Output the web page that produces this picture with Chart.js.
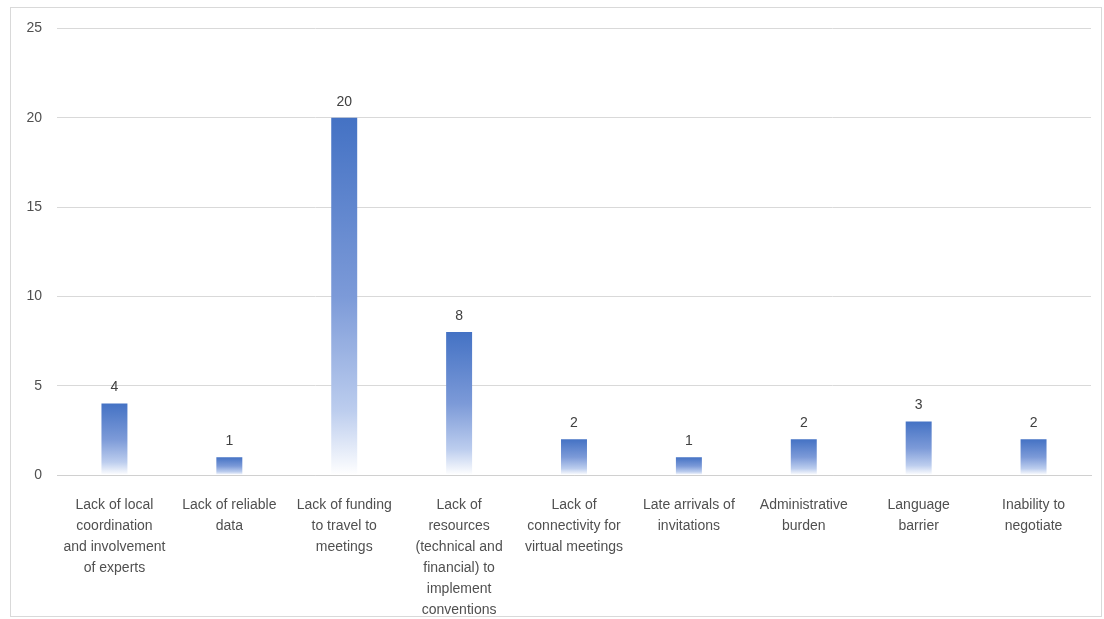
<!DOCTYPE html>
<html>
<head>
<meta charset="utf-8">
<script src="https://cdn.jsdelivr.net/npm/chart.js@4"></script>
<style>
  body { margin: 0; background: #fff; }
  #frame { position: absolute; left: 10px; top: 7px; width: 1092px; height: 610px; border: 1px solid #d9d9d9; box-sizing: border-box; }
  #wrap { position: absolute; left: 11px; top: 5px; width: 1090px; height: 611px; }
</style>
</head>
<body>
<div id="frame"></div>
<div id="wrap"><canvas id="barChart"></canvas></div>
<script>
const categories = [
    ['Lack of local', 'coordination', 'and involvement', 'of experts'],
    ['Lack of reliable', 'data'],
    ['Lack of funding', 'to travel to', 'meetings'],
    ['Lack of', 'resources', '(technical and', 'financial) to', 'implement', 'conventions'],
    ['Lack of', 'connectivity for', 'virtual meetings'],
    ['Late arrivals of', 'invitations'],
    ['Administrative', 'burden'],
    ['Language', 'barrier'],
    ['Inability to', 'negotiate']
];
const counts = [4, 1, 20, 8, 2, 1, 2, 3, 2];
const yTicks = [0, 5, 10, 15, 20, 25];

const font = "'Liberation Sans', 'DejaVu Sans', sans-serif";

// each bar fades from blue at its top to white at the axis
function barGradient(context) {
    const chart = context.chart;
    const yScale = chart.scales.y;
    if (!yScale || context.parsed === undefined) return '#4472C4';
    const top = yScale.getPixelForValue(context.parsed.y);
    const base = yScale.getPixelForValue(0);
    if (!isFinite(top) || !isFinite(base) || top === base) return '#4472C4';
    const g = chart.ctx.createLinearGradient(0, top, 0, base);
    g.addColorStop(0, '#4472C4');
    g.addColorStop(0.5, '#7c9ad8');
    g.addColorStop(0.82, '#bccdee');
    g.addColorStop(1, '#ffffff');
    return g;
}

// value labels above bars
const valueLabels = {
    id: 'valueLabels',
    afterDatasetsDraw(chart) {
        const ctx = chart.ctx;
        const meta = chart.getDatasetMeta(0);
        ctx.save();
        ctx.font = '14px ' + font;
        ctx.fillStyle = '#404040';
        ctx.textAlign = 'center';
        ctx.textBaseline = 'middle';
        meta.data.forEach((bar, i) => {
            ctx.fillText(String(counts[i]), bar.x, bar.y - 16);
        });
        ctx.restore();
    }
};

const ctx = document.getElementById('barChart').getContext('2d');
const barChart = new Chart(ctx, {
    type: 'bar',
    data: {
        labels: categories,
        datasets: [{
            data: counts,
            backgroundColor: barGradient,
            borderWidth: 0,
            barPercentage: 1,
            categoryPercentage: 0.226
        }]
    },
    options: {
        responsive: true,
        maintainAspectRatio: false,
        animation: false,
        layout: { padding: { top: 12, right: 10, left: 0, bottom: 0 } },
        plugins: {
            legend: { display: false },
            tooltip: { enabled: false }
        },
        scales: {
            x: {
                grid: { display: false },
                border: { display: true, color: '#d0d0d0', width: 1 },
                ticks: {
                    autoSkip: false,
                    maxRotation: 0,
                    minRotation: 0,
                    padding: 12,
                    color: '#505050',
                    font: { family: font, size: 14, lineHeight: 1.5 }
                },
                afterFit(scale) { scale.height = 141; }
            },
            y: {
                min: 0,
                max: 25,
                afterBuildTicks(scale) { scale.ticks = yTicks.map(v => ({ value: v })); },
                grid: { color: '#d9d9d9', drawTicks: false },
                border: { display: false },
                ticks: {
                    padding: 15,
                    color: '#505050',
                    font: { family: font, size: 14 }
                },
                afterFit(scale) { scale.width = 46; }
            }
        }
    },
    plugins: [valueLabels]
});
</script>
</body>
</html>
